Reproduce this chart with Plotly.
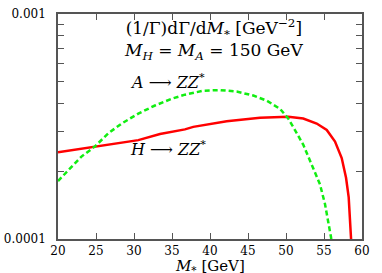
import plotly.graph_objects as go

# H -> ZZ* (red, solid)
h_mass = [20.0, 24.87, 30.57, 33.42, 36.7, 37.8, 42.2, 46.58, 47.9, 49.64, 50.3, 52.27, 54.04, 55.36, 56.45, 57.33, 57.9, 58.25, 58.42, 58.51, 58.6]
h_dist = [2.43e-4, 2.58e-4, 2.75e-4, 2.93e-4, 3.07e-4, 3.15e-4, 3.34e-4, 3.46e-4, 3.47e-4, 3.49e-4, 3.49e-4, 3.43e-4, 3.26e-4, 3.05e-4, 2.71e-4, 2.29e-4, 1.87e-4, 1.53e-4, 1.25e-4, 1.02e-4, 0.95e-4]

# A -> ZZ* (green, dashed)
a_mass = [20.0, 21.36, 23.12, 24.87, 26.62, 28.38, 30.57, 32.76, 34.96, 36.7, 39.12, 41.32, 43.51, 45.7, 47.46, 49.21, 50.3, 51.18, 52.28, 53.38, 54.47, 55.13, 55.57, 55.92, 56.0]
a_dist = [1.81e-4, 2.03e-4, 2.33e-4, 2.58e-4, 2.95e-4, 3.26e-4, 3.61e-4, 3.92e-4, 4.2e-4, 4.38e-4, 4.56e-4, 4.59e-4, 4.52e-4, 4.34e-4, 4.12e-4, 3.79e-4, 3.43e-4, 3.05e-4, 2.62e-4, 2.14e-4, 1.75e-4, 1.43e-4, 1.21e-4, 1.02e-4, 0.97e-4]

x_ticks = [20, 25, 30, 35, 40, 45, 50, 55, 60]
y_ticks = [1e-4, 1e-3]
y_ticktext = ["0.0001", "0.001"]
y_minor_ticks = [2e-4, 3e-4, 4e-4, 5e-4, 6e-4, 7e-4, 8e-4, 9e-4]

FONT = "DejaVu Serif"

fig = go.Figure()
fig.add_trace(go.Scatter(x=h_mass, y=h_dist, mode="lines",
                         line=dict(color="#ff0000", width=2.5), showlegend=False))
fig.add_trace(go.Scatter(x=a_mass, y=a_dist, mode="lines",
                         line=dict(color="#11ee11", width=2.5, dash="5px,3px"), showlegend=False))

axis_common = dict(showline=True, linecolor="#555555", linewidth=1.5, mirror="allticks",
                   ticks="inside", ticklen=6, tickcolor="#555555", tickwidth=1,
                   showgrid=False, zeroline=False, automargin=False)

fig.update_xaxes(range=[20, 60], tickvals=x_ticks,
                 tickfont=dict(family=FONT, size=12, color="black"), **axis_common)
fig.update_yaxes(type="log", range=[-4, -3], tickvals=y_ticks, ticktext=y_ticktext,
                 tickfont=dict(family=FONT, size=12, color="black"),
                 minor=dict(tickvals=y_minor_ticks, ticks="inside", ticklen=6,
                            tickcolor="#555555", tickwidth=1, showgrid=False),
                 ticklabelstandoff=8, **axis_common)

fig.add_annotation(xref="paper", yref="paper", x=0.5, y=-0.12, yanchor="middle", showarrow=False,
                   text="<i>M</i><sub>*</sub> [GeV]", borderpad=0,
                   font=dict(family=FONT, size=15, color="black"))
fig.add_annotation(xref="paper", yref="paper", x=0.51, y=0.888, yanchor="middle", showarrow=False,
                   text="(1/Γ)dΓ/d<i>M</i><sub>*</sub> [GeV<sup>−2</sup>]<br>"
                        "<i>M<sub>H</sub></i> = <i>M<sub>A</sub></i> = 150 GeV",
                   borderpad=0, align="center",
                   font=dict(family=FONT, size=17, color="black"))
fig.add_annotation(xref="paper", yref="paper", x=0.23, y=0.70, xanchor="left", yanchor="middle",
                   showarrow=False, text="<i>A</i> ⟶ <i>ZZ</i><sup>*</sup>",
                   font=dict(family=FONT, size=16, color="black"))
fig.add_annotation(xref="paper", yref="paper", x=0.23, y=0.404, xanchor="left", yanchor="middle",
                   showarrow=False, text="<i>H</i> ⟶ <i>ZZ</i><sup>*</sup>",
                   font=dict(family=FONT, size=16, color="black"))

fig.update_layout(width=382, height=273, margin=dict(l=58, r=20, t=14, b=34),
                  plot_bgcolor="white", paper_bgcolor="white")

fig.write_html("out.html", config={"displayModeBar": False},
               post_script="document.body.style.margin='0';")
